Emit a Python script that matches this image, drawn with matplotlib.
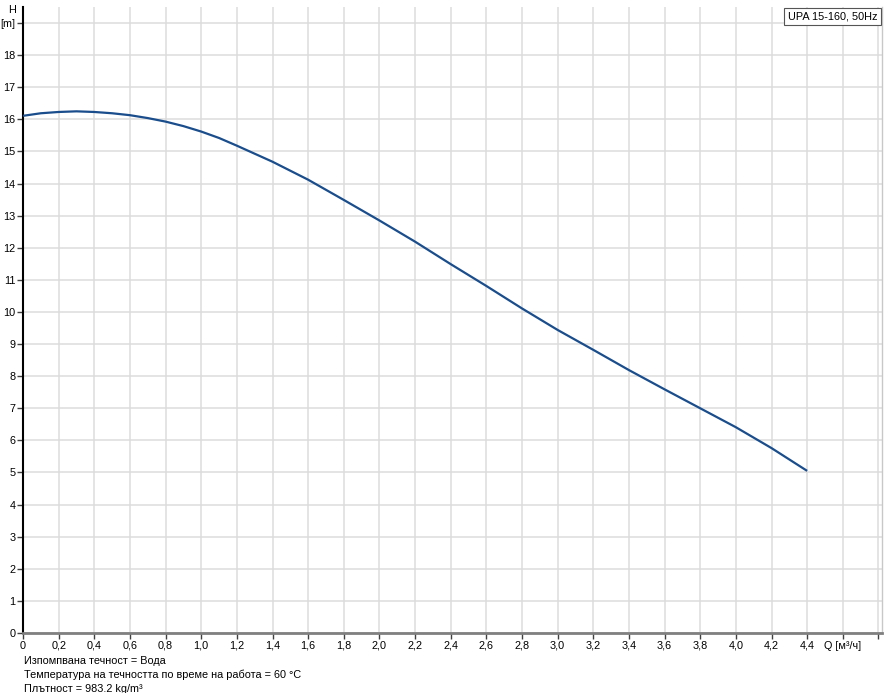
import numpy as np
import matplotlib
matplotlib.use('Agg')
import matplotlib.pyplot as plt
import matplotlib.transforms as mtransforms

# pump curve UPA 15-160
q = [0.0, 0.1, 0.2, 0.3, 0.4, 0.5, 0.6, 0.7, 0.8, 0.9, 1.0, 1.1, 1.2, 1.4, 1.6, 1.8,
     2.0, 2.2, 2.4, 2.6, 2.8, 3.0, 3.2, 3.4, 3.6, 3.8, 4.0, 4.2, 4.4]
h = [16.11, 16.19, 16.23, 16.25, 16.23, 16.19, 16.13, 16.04, 15.93, 15.79, 15.62, 15.42,
     15.18, 14.68, 14.12, 13.49, 12.85, 12.19, 11.49, 10.81, 10.11, 9.44, 8.82, 8.19,
     7.59, 7.0, 6.41, 5.76, 5.05]

x_ticks = [0.0, 0.2, 0.4, 0.6, 0.8, 1.0, 1.2, 1.4, 1.6, 1.8, 2.0, 2.2, 2.4, 2.6, 2.8,
           3.0, 3.2, 3.4, 3.6, 3.8, 4.0, 4.2, 4.4, 4.6, 4.8]
x_labels = ['0', '0,2', '0,4', '0,6', '0,8', '1,0', '1,2', '1,4', '1,6', '1,8', '2,0',
            '2,2', '2,4', '2,6', '2,8', '3,0', '3,2', '3,4', '3,6', '3,8', '4,0', '4,2',
            '4,4', 'Q [м³/ч]', '']
y_ticks = list(range(0, 20))
y_labels = [str(v) for v in range(0, 19)] + ['[m]']

title = 'UPA 15-160, 50Hz'
notes = ['Изпомпвана течност = Вода',
         'Температура на течността по време на работа = 60 °C',
         'Плътност = 983.2 kg/m³']

plt.rcParams['font.family'] = ['Liberation Sans', 'DejaVu Sans']
plt.rcParams['font.size'] = 7.8

fig = plt.figure(figsize=(8.9, 6.93), dpi=100)
ax = fig.add_axes([23 / 890, 60 / 693, 859 / 890, 626 / 693])

ax.plot(q, h, color='#1a4d8c', lw=1.6, solid_capstyle='butt', zorder=3)

ax.set_xlim(0, 4.82)
ax.set_ylim(0, 19.5)
ax.set_xticks(x_ticks)
ax.set_xticklabels(x_labels)
ax.set_yticks(y_ticks)
ax.set_yticklabels(y_labels)
ax.grid(True, color='#dcdcdc', lw=1.1)
ax.set_axisbelow(True)

ax.tick_params(axis='both', direction='out', length=4, width=1, colors='#404040',
               labelcolor='black', pad=1.5)

ax.spines['top'].set_visible(False)
ax.spines['left'].set_color('black')
ax.spines['left'].set_linewidth(1.5)
ax.spines['bottom'].set_color('#808080')
ax.spines['bottom'].set_linewidth(2)
ax.spines['right'].set_color('#c8c8c8')
ax.spines['right'].set_linewidth(1)

trans = mtransforms.blended_transform_factory(ax.transAxes, ax.transData)
ax.text(-0.013, 19.4, 'H', transform=trans, ha='center', va='center')

ax.text(0.995, 0.993, title, transform=ax.transAxes, ha='right', va='top',
        bbox=dict(boxstyle='square,pad=0.35', fc='white', ec='#555555', lw=0.8), zorder=5)

for i, line in enumerate(notes):
    fig.text(24 / 890, 1 - (661 + 14 * i) / 693, line, ha='left', va='center')

fig.savefig('out.png', dpi=100)
